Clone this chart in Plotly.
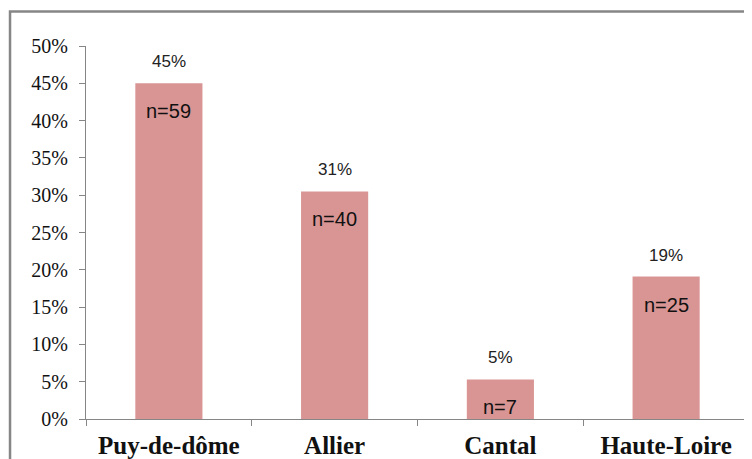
import plotly.graph_objects as go

categories = ["Puy-de-dôme", "Allier", "Cantal", "Haute-Loire"]
pct_values = [45.0, 30.5, 5.3, 19.1]
pct_labels = ["45%", "31%", "5%", "19%"]
n_labels = ["n=59", "n=40", "n=7", "n=25"]
y_ticks = [0, 5, 10, 15, 20, 25, 30, 35, 40, 45, 50]
y_tick_labels = [f"{v}%" for v in y_ticks]

bar_color = "#D99594"
axis_color = "#868686"

fig = go.Figure()
fig.add_trace(go.Bar(
    x=categories, y=pct_values, width=0.405,
    marker=dict(color=bar_color, line=dict(width=0)),
    hoverinfo="skip",
))

for c, v, pl, nl in zip(categories, pct_values, pct_labels, n_labels):
    fig.add_annotation(x=c, y=v, text=pl, showarrow=False, yanchor="bottom",
                       yshift=10, font=dict(family="Liberation Sans", size=17, color="#222"))
    fig.add_annotation(x=c, y=v, text=nl, showarrow=False, yanchor="top",
                       yshift=-15, font=dict(family="Liberation Sans", size=20, color="#111"))

fig.add_shape(type="rect", xref="paper", yref="paper",
              x0=-0.1146, x1=1.05, y0=-0.3, y1=1.0925,
              line=dict(color=axis_color, width=2.5), fillcolor="rgba(0,0,0,0)", layer="above")

fig.update_layout(
    width=744, height=451,
    margin=dict(l=78, r=3, t=38, b=40, autoexpand=False),
    paper_bgcolor="white", plot_bgcolor="white",
    showlegend=False,
    bargap=0.6,
)
fig.update_yaxes(
    range=[0, 50], tickvals=y_ticks, ticktext=y_tick_labels,
    showgrid=False, zeroline=False,
    showline=True, linecolor=axis_color, linewidth=1,
    ticks="outside", ticklen=6, tickcolor=axis_color, ticklabelstandoff=7,
    tickfont=dict(family="Liberation Serif, Times New Roman, serif", size=20, color="#111"),
)
fig.update_xaxes(
    showgrid=False, showline=True, linecolor=axis_color, linewidth=1,
    ticks="outside", ticklen=6, tickcolor=axis_color, tickson="boundaries",
    ticklabelstandoff=4,
    tickfont=dict(family="Liberation Serif, Times New Roman, serif", size=25, color="#111", weight="bold"),
)

fig.write_html("out.html")
